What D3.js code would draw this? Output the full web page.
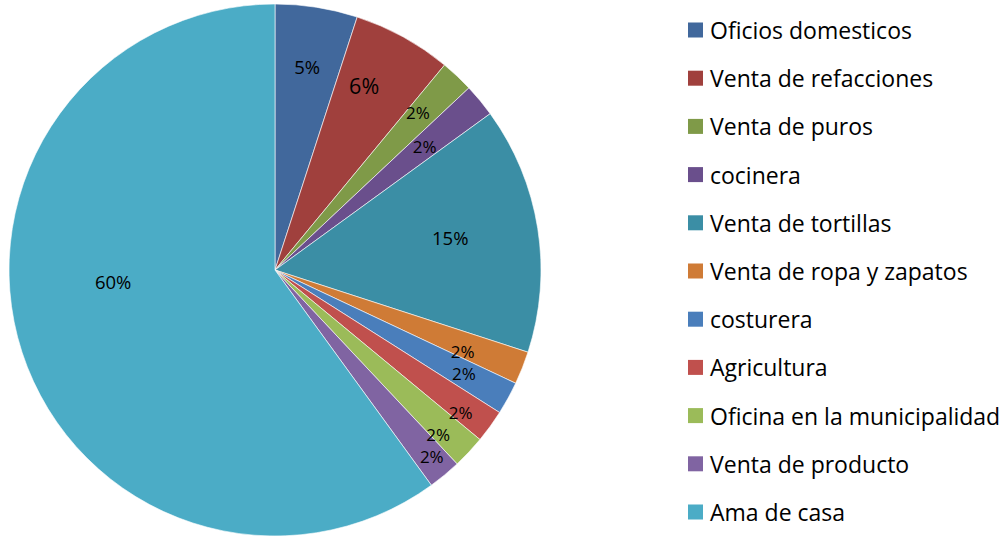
<!DOCTYPE html>
<html>
<head>
<meta charset="utf-8">
<script src="https://cdn.jsdelivr.net/npm/d3@7"></script>
<style>
  body { margin: 0; background: #fff; }
  text { font-family: "Open Sans", Lato, sans-serif; fill: #000; }
</style>
</head>
<body>
<svg width="1008" height="539"></svg>
<script>
const categories = ["Oficios domesticos", "Venta de refacciones", "Venta de puros", "cocinera",
  "Venta de tortillas", "Venta de ropa y zapatos", "costurera", "Agricultura",
  "Oficina en la municipalidad", "Venta de producto", "Ama de casa"];
const values = [5, 6, 2, 2, 15, 2, 2, 2, 2, 2, 60];
const labels = ["5%", "6%", "2%", "2%", "15%", "2%", "2%", "2%", "2%", "2%", "60%"];
const colors = ["#41689c", "#a0403d", "#7f9a48", "#6a4f8c", "#3b8ea5", "#cf7b36",
  "#4a7ebb", "#c0504d", "#9bbb59", "#8064a2", "#4bacc6"];

// label placement (radius as fraction of pie radius, angle nudge in degrees)
const labelR = [0.775, 0.77, 0.80, 0.73, 0.67, 0.77, 0.81, 0.88, 0.87, 0.915, 0.61];
const labelNudge = [0, -3, -1, 0, -1.5, 2, 0, 1.5, 2, -0.5, 14];
const labelSize = [18.5, 21.5, 17, 17, 18.5, 17, 17, 17, 17, 17, 18.5];

const svg = d3.select("svg");
const cx = 275, cy = 270, radius = 266;

const pie = d3.pie().sort(null).value(d => d);
const arcs = pie(values);
const arc = d3.arc().innerRadius(0).outerRadius(radius);

const g = svg.append("g").attr("transform", "translate(" + cx + "," + cy + ")");

g.selectAll("path")
  .data(arcs)
  .enter()
  .append("path")
  .attr("d", arc)
  .style("fill", (d, i) => colors[i])
  .style("stroke", "#fff")
  .style("stroke-width", 0.6);

g.selectAll(".lbl")
  .data(arcs)
  .enter()
  .append("text")
  .attr("class", "lbl")
  .attr("x", (d, i) => {
    let a = (d.startAngle + d.endAngle) / 2 + labelNudge[i] * Math.PI / 180;
    return Math.sin(a) * radius * labelR[i];
  })
  .attr("y", (d, i) => {
    let a = (d.startAngle + d.endAngle) / 2 + labelNudge[i] * Math.PI / 180;
    return -Math.cos(a) * radius * labelR[i];
  })
  .attr("text-anchor", "middle")
  .attr("dominant-baseline", "central")
  .style("font-size", (d, i) => labelSize[i] + "px")
  .text((d, i) => labels[i]);

const legend = svg.append("g").attr("transform", "translate(688,30)");
const rowY = d3.scaleLinear().domain([0, categories.length - 1]).range([0, 482]);

const item = legend.selectAll("g")
  .data(categories)
  .enter()
  .append("g")
  .attr("transform", (d, i) => "translate(0," + rowY(i) + ")");

item.append("rect")
  .attr("x", 0)
  .attr("y", -7.5)
  .attr("width", 15)
  .attr("height", 15)
  .style("fill", (d, i) => colors[i]);

item.append("text")
  .attr("x", 22)
  .attr("y", 0)
  .attr("dominant-baseline", "central")
  .style("font-size", "23px")
  .text(d => d);
</script>
</body>
</html>
